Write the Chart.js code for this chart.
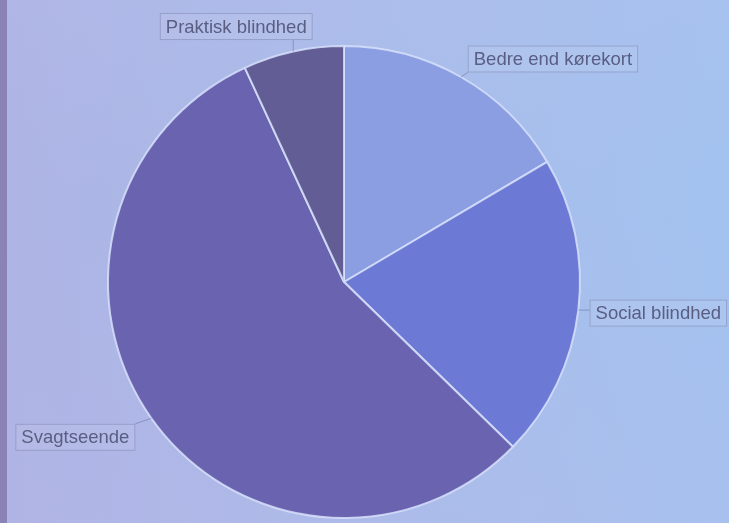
<!DOCTYPE html>
<html>
<head>
<meta charset="utf-8">
<script src="https://cdn.jsdelivr.net/npm/chart.js@4.4.1/dist/chart.umd.min.js"></script>
<style>
  html, body { margin: 0; padding: 0; }
  body {
    width: 729px; height: 523px; overflow: hidden;
    background: linear-gradient(to right, #adb4e4 0%, #aabbe9 45%, #a3c2ef 100%);
  }
  #wrap { position: relative; width: 729px; height: 523px; }
  #strip { position: absolute; left: 0; top: 0; width: 7px; height: 523px; background: #8b82b6; }
  #shade { position: absolute; left: 0; top: 0; width: 729px; height: 523px;
    background: linear-gradient(to bottom, rgba(190,195,240,0.15), rgba(0,0,0,0) 40%, rgba(200,180,230,0.12)); }
  canvas { position: absolute; left: 0; top: 0; }
</style>
</head>
<body>
<div id="wrap">
  <div id="shade"></div>
  <div id="strip"></div>
  <canvas id="chart" width="729" height="523"></canvas>
</div>
<script>
// Synsstyrke - andel pr. kategori (%)
const categories = ['Bedre end kørekort', 'Social blindhed', 'Svagtseende', 'Praktisk blindhed'];
const shares = [16.5, 20.8, 55.8, 6.9];
const sliceColors = ['#8b9ee2', '#6c7ad5', '#6a64b0', '#625d94'];

// label box offsets from the slice's outer edge midpoint
const labelOffsets = [[92, -18], [80, 3], [-76, 19], [-57, -25]];

const calloutPlugin = {
    id: 'callouts',
    afterDatasetsDraw(chart) {
        const ctx = chart.ctx;
        const meta = chart.getDatasetMeta(0);
        ctx.save();
        ctx.font = '18.5px "Liberation Sans", Arial, sans-serif';
        ctx.textBaseline = 'middle';
        ctx.textAlign = 'center';
        meta.data.forEach((arc, i) => {
            const mid = (arc.startAngle + arc.endAngle) / 2;
            const ax = arc.x + Math.cos(mid) * arc.outerRadius;
            const ay = arc.y + Math.sin(mid) * arc.outerRadius;
            const cx = ax + labelOffsets[i][0];
            const cy = ay + labelOffsets[i][1];
            const text = categories[i];
            const w = ctx.measureText(text).width + 12;
            const h = 27;
            const bx = cx - w / 2, by = cy - h / 2;

            // leader line to nearest point of the box
            const px = Math.max(bx, Math.min(ax, bx + w));
            const py = Math.max(by, Math.min(ay, by + h));
            ctx.strokeStyle = 'rgba(110,120,165,0.6)';
            ctx.lineWidth = 1;
            ctx.beginPath();
            ctx.moveTo(ax, ay);
            ctx.lineTo(px, py);
            ctx.stroke();

            ctx.fillStyle = 'rgba(255,255,255,0.08)';
            ctx.fillRect(bx, by, w, h);
            ctx.strokeStyle = 'rgba(125,135,175,0.55)';
            ctx.strokeRect(bx + 0.5, by + 0.5, w - 1, h - 1);

            ctx.fillStyle = '#595e82';
            ctx.fillText(text, cx, cy + 1);
        });
        ctx.restore();
    }
};

const ctx = document.getElementById('chart').getContext('2d');
new Chart(ctx, {
    type: 'pie',
    data: {
        labels: categories,
        datasets: [{
            data: shares,
            backgroundColor: sliceColors,
            borderColor: 'rgba(215,225,252,0.85)',
            borderWidth: 2
        }]
    },
    options: {
        responsive: false,
        animation: false,
        devicePixelRatio: 1,
        layout: { padding: { left: 107, right: 148, top: 45, bottom: 4 } },
        plugins: {
            legend: { display: false },
            tooltip: { enabled: false }
        }
    },
    plugins: [calloutPlugin]
});
</script>
</body>
</html>
